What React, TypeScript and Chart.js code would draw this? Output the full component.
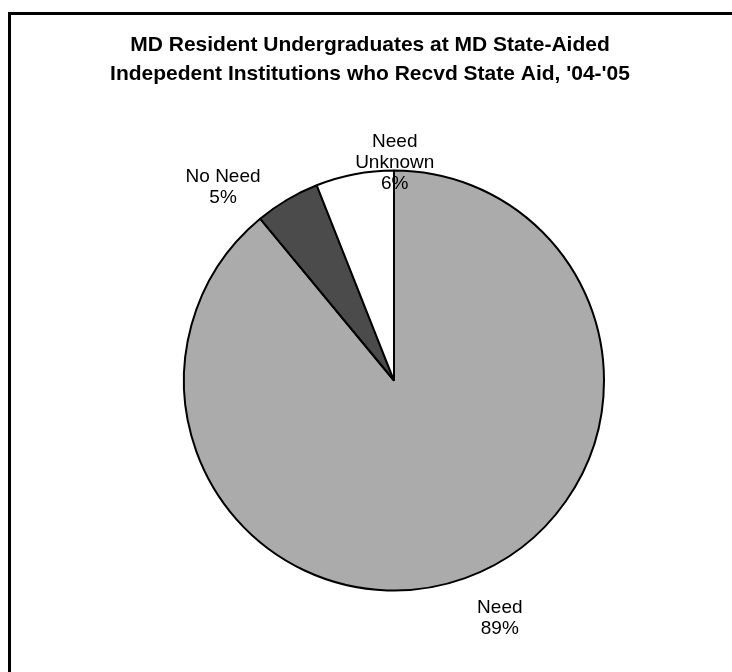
import React, { useEffect, useRef } from "react";
import { Chart, registerables } from "chart.js";

Chart.register(...registerables);

const titleLines = ["MD Resident Undergraduates at MD State-Aided", "Indepedent Institutions who Recvd State Aid, '04-'05"];
const categories = ["Need", "No Need", "Need Unknown"];
const labelLines = [["Need", "89%"], ["No Need", "5%"], ["Need", "Unknown", "6%"]];
const values = [89, 5, 6];
const colors = ["#ababab", "#4b4b4b", "#ffffff"];
// label placement tweaks (Excel-style positioning) relative to an anchor at 1.15R on the slice mid-angle
const labelShift = [[24, 11], [-48, 15], [46, 19]];

const framePlugin = {
  id: "frameAndLabels",
  afterDraw(chart: any) {
    const ctx = chart.ctx;
    ctx.save();
    // frame
    ctx.strokeStyle = "#000";
    ctx.lineWidth = 3;
    ctx.strokeRect(9.5, 13.5, 900, 900);
    // title
    ctx.fillStyle = "#000";
    ctx.textAlign = "center";
    ctx.textBaseline = "alphabetic";
    ctx.font = "bold 21px 'Liberation Sans', Arial, sans-serif";
    titleLines.forEach((t, i) => ctx.fillText(t, 370, 51 + i * 29));
    // labels
    ctx.font = "19px 'Liberation Sans', Arial, sans-serif";
    ctx.textBaseline = "middle";
    const meta = chart.getDatasetMeta(0);
    meta.data.forEach((arc: any, i: number) => {
      const p = arc.getProps(["x", "y", "startAngle", "endAngle", "outerRadius"], true);
      const mid = (p.startAngle + p.endAngle) / 2;
      const ax = p.x + Math.cos(mid) * p.outerRadius * 1.15 + labelShift[i][0];
      const ay = p.y + Math.sin(mid) * p.outerRadius * 1.15 + labelShift[i][1];
      const lines = labelLines[i];
      const lh = 21;
      const y0 = ay - ((lines.length - 1) * lh) / 2;
      lines.forEach((l, j) => ctx.fillText(l, ax, y0 + j * lh));
    });
    ctx.restore();
  },
};

export default function App() {
  const ref = useRef<HTMLCanvasElement>(null);
  useEffect(() => {
    const canvas = ref.current!;
    const chart = new Chart(canvas, {
      type: "pie",
      data: {
        labels: categories,
        datasets: [
          {
            data: values,
            backgroundColor: colors,
            borderColor: "#000",
            borderWidth: 2,
          },
        ],
      },
      options: {
        responsive: false,
        animation: false,
        layout: { padding: { left: 183, right: 127, top: 169, bottom: 80 } },
        plugins: {
          legend: { display: false },
          title: { display: false },
          tooltip: { enabled: false },
        },
      },
      plugins: [framePlugin],
    });
    return () => chart.destroy();
  }, []);
  return (
    <div style={{ position: "absolute", left: 0, top: 0, width: 732, height: 672, background: "#fff" }}>
      <canvas ref={ref} width={732} height={672} />
    </div>
  );
}
